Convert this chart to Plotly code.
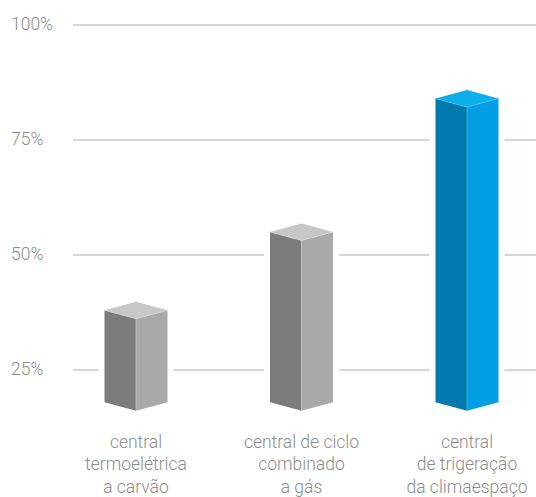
import plotly.graph_objects as go

# ---- data ----
categories = [
    "central<br>termoelétrica<br>a carvão",
    "central de ciclo<br>combinado<br>a gás",
    "central<br>de trigeração<br>da climaespaço",
]
values = [38, 55, 84]          # efficiency, %
base_value = 18                # bars start here, %
y_ticks = [25, 50, 75, 100]
y_tick_labels = ["25%", "50%", "75%", "100%"]

# ---- styling ----
W, H = 536, 497
ML, MR, MT = 73, 0, 0
plot_bottom = 429              # pixel row of the plot-area bottom
MB = H - plot_bottom
plot_w = W - ML - MR
px_per_unit_y = 4.6            # pixels per percentage point
y_px_25 = 370                  # pixel row of the 25% gridline
y_top = 25 + (y_px_25 - MT) / px_per_unit_y
y_bot = 25 - (plot_bottom - y_px_25) / px_per_unit_y
px_per_cat = 165.5
first_center_px = 136
x_lo = -(first_center_px - ML) / px_per_cat
x_hi = x_lo + plot_w / px_per_cat

half_w = 31.5 / px_per_cat         # half bar width in x units
depth = 8.5 / px_per_unit_y        # top-face half height in y units

palettes = [
    dict(left="#7c7c7c", right="#a9a9a9", top="#c7c7c7", edge="#d6d6d6"),
    dict(left="#7c7c7c", right="#a9a9a9", top="#c7c7c7", edge="#d6d6d6"),
    dict(left="#0079ae", right="#009fe3", top="#0daeea", edge="#4cc3ef"),
]
text_color = "#8c8c8c"
grid_color = "#d6d6d6"
font_family = "Roboto"

fig = go.Figure()
positions = list(range(len(categories)))

for i, (c, v) in enumerate(zip(positions, values)):
    pal = palettes[i]
    l, r = c - half_w, c + half_w
    # white halo that interrupts the gridlines around each bar
    fig.add_trace(go.Scatter(
        x=[l, l, c, r, r, c, l],
        y=[base_value, v, v + depth, v, base_value, base_value - depth, base_value],
        mode="lines", fill="toself", fillcolor="white",
        line=dict(color="white", width=12), hoverinfo="skip", showlegend=False))
    # left face
    fig.add_trace(go.Scatter(
        x=[l, c, c, l, l],
        y=[v, v - depth, base_value - depth, base_value, v],
        mode="lines", fill="toself", fillcolor=pal["left"],
        line=dict(width=0, color=pal["left"]), hoverinfo="skip", showlegend=False))
    # right face
    fig.add_trace(go.Scatter(
        x=[c, r, r, c, c],
        y=[v - depth, v, base_value, base_value - depth, v - depth],
        mode="lines", fill="toself", fillcolor=pal["right"],
        line=dict(width=0, color=pal["right"]), hoverinfo="skip", showlegend=False))
    # top face
    fig.add_trace(go.Scatter(
        x=[l, c, r, c, l],
        y=[v, v + depth, v, v - depth, v],
        mode="lines", fill="toself", fillcolor=pal["top"],
        line=dict(width=0, color=pal["top"]), hoverinfo="skip", showlegend=False))
    # subtle highlight edges
    fig.add_trace(go.Scatter(
        x=[l, c, r, None, c, c],
        y=[v, v - depth, v, None, v - depth, base_value - depth],
        mode="lines", line=dict(width=0.6, color=pal["edge"]),
        hoverinfo="skip", showlegend=False))

# y tick labels, left-aligned in the margin
for t, lab in zip(y_ticks, y_tick_labels):
    fig.add_annotation(
        x=(9 - ML) / plot_w, xref="paper", y=t + 0.3, yref="y",
        text=lab, showarrow=False, xanchor="left", yanchor="middle",
        font=dict(family=font_family, size=17.5, color=text_color, weight=300))

fig.update_layout(
    width=W, height=H,
    margin=dict(l=ML, r=MR, t=MT, b=MB, autoexpand=False),
    paper_bgcolor="white", plot_bgcolor="white",
    showlegend=False,
    font=dict(family=font_family, size=17.5, color=text_color, weight=300),
    xaxis=dict(range=[x_lo, x_hi], tickvals=positions, ticktext=categories,
               showgrid=False, zeroline=False, showline=False, ticks="",
               fixedrange=True, automargin=False),
    yaxis=dict(range=[y_bot, y_top], tickvals=y_ticks, showticklabels=False,
               showgrid=True, gridcolor=grid_color, gridwidth=1.5,
               zeroline=False, showline=False, ticks="", fixedrange=True,
               automargin=False),
)

fig.write_html(
    "out.html",
    config={"displayModeBar": False, "staticPlot": True},
    post_script="document.body.style.margin='0';document.body.style.overflow='hidden';",
)
